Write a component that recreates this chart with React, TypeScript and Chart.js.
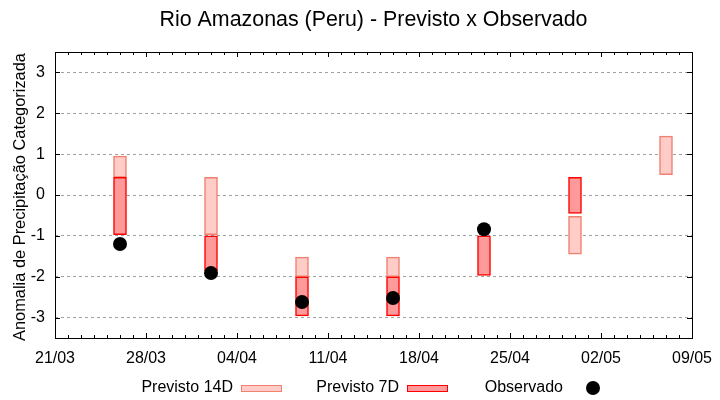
import React, { useEffect, useRef } from "react";
import { Chart, registerables } from "chart.js";
Chart.register(...registerables);

const TITLE = "Rio Amazonas (Peru) - Previsto x Observado";
const Y_TITLE = "Anomalia de Precipitação Categorizada";
const START_DATE = "21/03";
const X_TICK_LABELS = ["21/03", "28/03", "04/04", "11/04", "18/04", "25/04", "02/05", "09/05"];
const Y_TICKS = [-3, -2, -1, 0, 1, 2, 3];
const DATES = ["26/03", "02/04", "09/04", "16/04", "23/04", "30/04", "07/05"];
const P14_LOW: (number | null)[] = [0.43, -0.97, -2.0, -2.0, null, -1.45, 0.5];
const P14_HIGH: (number | null)[] = [0.95, 0.43, -1.52, -1.52, null, -0.52, 1.44];
const P7_LOW: (number | null)[] = [-0.97, -1.85, -2.96, -2.96, -1.97, -0.45, null];
const P7_HIGH: (number | null)[] = [0.43, -1.0, -2.0, -2.0, -1.0, 0.43, null];
const OBS: (number | null)[] = [-1.2, -1.91, -2.62, -2.52, -0.84, null, null];

const FONT = "'Liberation Sans', Arial, sans-serif";
const C14_FILL = "#ffccc8";
const C14_BORDER = "#f08070";
const C7_FILL = "#ff9a9a";
const C7_BORDER = "#ff0000";

function toDay(s: string): number {
  const [d, m] = s.split("/").map(Number);
  const [d0, m0] = START_DATE.split("/").map(Number);
  return Math.round((Date.UTC(2021, m - 1, d) - Date.UTC(2021, m0 - 1, d0)) / 86400000);
}
const X_MAX = toDay(X_TICK_LABELS[X_TICK_LABELS.length - 1]);

function ranges(lo: (number | null)[], hi: (number | null)[]) {
  const out: any[] = [];
  DATES.forEach((d, i) => {
    if (lo[i] != null && hi[i] != null) out.push({ x: toDay(d), y: [lo[i], hi[i]] });
  });
  return out;
}

const decorPlugin = {
  id: "decor",
  afterDraw(chart: any) {
    const { ctx, chartArea: a, scales } = chart;
    const xs = scales.x;
    const ys = scales.y;
    ctx.save();
    ctx.strokeStyle = "#000";
    ctx.lineWidth = 1;
    ctx.strokeRect(Math.round(a.left) + 0.5, Math.round(a.top) + 0.5, Math.round(a.right - a.left), Math.round(a.bottom - a.top));
    ctx.beginPath();
    for (let d = 0; d <= X_MAX; d++) {
      const px = Math.round(xs.getPixelForValue(d)) + 0.5;
      const len = d % 7 === 0 ? 5 : 3;
      ctx.moveTo(px, a.bottom);
      ctx.lineTo(px, a.bottom - len);
      ctx.moveTo(px, a.top);
      ctx.lineTo(px, a.top + len);
    }
    Y_TICKS.forEach((v) => {
      const py = Math.round(ys.getPixelForValue(v)) + 0.5;
      ctx.moveTo(a.left, py);
      ctx.lineTo(a.left + 5, py);
      ctx.moveTo(a.right, py);
      ctx.lineTo(a.right - 5, py);
    });
    ctx.stroke();

    ctx.fillStyle = "#000";
    ctx.font = `21.4px ${FONT}`;
    ctx.textAlign = "center";
    ctx.textBaseline = "middle";
    ctx.fillText(TITLE, (a.left + a.right) / 2, 20);

    ctx.save();
    ctx.translate(20, (a.top + a.bottom) / 2 + 2);
    ctx.rotate(-Math.PI / 2);
    ctx.font = `16.4px ${FONT}`;
    ctx.fillText(Y_TITLE, 0, 0);
    ctx.restore();

    // legend
    ctx.font = `16px ${FONT}`;
    ctx.textAlign = "right";
    const ly = 386;
    const entries = [
      { label: "Previsto 14D", x: 233, kind: "box", fill: C14_FILL, stroke: C14_BORDER },
      { label: "Previsto 7D", x: 399, kind: "box", fill: C7_FILL, stroke: C7_BORDER },
      { label: "Observado", x: 563, kind: "dot" },
    ];
    entries.forEach((e: any) => {
      ctx.fillStyle = "#000";
      ctx.fillText(e.label, e.x, ly + 1.5);
      if (e.kind === "box") {
        ctx.fillStyle = e.fill;
        ctx.fillRect(e.x + 8.5, ly - 0.5, 40, 6);
        ctx.strokeStyle = e.stroke;
        ctx.lineWidth = 1;
        ctx.strokeRect(e.x + 8.5, ly - 0.5, 40, 6);
      } else {
        ctx.fillStyle = "#000";
        ctx.beginPath();
        ctx.arc(e.x + 30, ly + 2, 7, 0, Math.PI * 2);
        ctx.fill();
      }
    });
    ctx.restore();
  },
};

export default function App() {
  const ref = useRef<HTMLCanvasElement>(null);
  useEffect(() => {
    document.body.style.margin = "0";
    const obs: any[] = [];
    DATES.forEach((d, i) => {
      if (OBS[i] != null) obs.push({ x: toDay(d), y: OBS[i] });
    });
    const chart = new Chart(ref.current!, {
      type: "bar",
      data: {
        datasets: [
          {
            type: "scatter",
            label: "Observado",
            data: obs,
            pointRadius: 7,
            pointBackgroundColor: "#000",
            pointBorderColor: "#000",
            pointBorderWidth: 0,
            order: 0,
          } as any,
          {
            type: "bar",
            label: "Previsto 7D",
            data: ranges(P7_LOW, P7_HIGH),
            backgroundColor: C7_FILL,
            borderColor: C7_BORDER,
            borderWidth: 1.5,
            borderSkipped: false,
            barThickness: 13,
            grouped: false,
            order: 1,
          } as any,
          {
            type: "bar",
            label: "Previsto 14D",
            data: ranges(P14_LOW, P14_HIGH),
            backgroundColor: C14_FILL,
            borderColor: C14_BORDER,
            borderWidth: 1.5,
            borderSkipped: false,
            barThickness: 13,
            grouped: false,
            order: 2,
          } as any,
        ],
      },
      options: {
        animation: false,
        responsive: false,
        layout: { padding: { top: 52, right: 28, bottom: 0, left: 0 } },
        plugins: { legend: { display: false }, title: { display: false }, tooltip: { enabled: false } },
        scales: {
          x: {
            type: "linear",
            min: 0,
            max: X_MAX,
            offset: false,
            grid: { display: false },
            border: { display: false },
            afterBuildTicks: (s: any) => {
              s.ticks = X_TICK_LABELS.map((_, i) => ({ value: i * 7 }));
            },
            afterFit: (s: any) => {
              s.height = 62;
            },
            ticks: {
              color: "#000",
              font: { family: FONT, size: 16 },
              padding: 3,
              maxRotation: 0,
              autoSkip: false,
              callback: (v: any) => X_TICK_LABELS[Math.round(Number(v) / 7)],
            },
          },
          y: {
            type: "linear",
            min: -3.5,
            max: 3.5,
            grid: { display: true, color: "#a0a0a0", drawTicks: false, lineWidth: 1 },
            border: { display: false, dash: [3, 3] },
            afterBuildTicks: (s: any) => {
              s.ticks = Y_TICKS.map((v) => ({ value: v }));
            },
            afterFit: (s: any) => {
              s.width = 55;
            },
            ticks: {
              color: "#000",
              font: { family: FONT, size: 16 },
              padding: 10,
            },
          },
        },
      } as any,
      plugins: [decorPlugin],
    });
    return () => chart.destroy();
  }, []);
  return (
    <div style={{ width: 720, height: 400 }}>
      <canvas ref={ref} width={720} height={400} style={{ display: "block" }} />
    </div>
  );
}
